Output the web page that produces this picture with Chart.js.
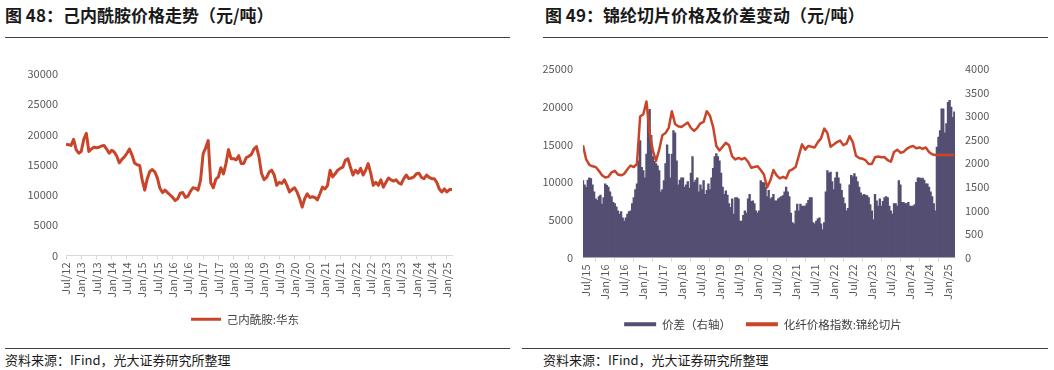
<!DOCTYPE html>
<html><head><meta charset="utf-8">
<script src="https://cdn.jsdelivr.net/npm/chart.js@4/dist/chart.umd.min.js"></script>
<style>
body{margin:0;width:1054px;height:370px;background:#fff;position:relative;overflow:hidden;font-family:"Noto Sans CJK SC",sans-serif}
.title{position:absolute;font-size:17px;line-height:17px;font-weight:bold;color:#1a1a1a;white-space:nowrap}
.rule{position:absolute;height:1px;background:#404040}
.src{position:absolute;font-size:13px;line-height:13px;color:#1a1a1a;white-space:nowrap}
canvas{position:absolute}
</style></head><body>
<div class="title" style="left:5px;top:6px">图 48：己内酰胺价格走势（元/吨）</div>
<div class="rule" style="left:5px;top:37px;width:505px"></div>
<div class="title" style="left:545px;top:6px">图 49：锦纶切片价格及价差变动（元/吨）</div>
<div class="rule" style="left:543px;top:37px;width:505px"></div>
<canvas id="c1" width="515" height="300" style="left:0;top:40px"></canvas>
<canvas id="c2" width="534" height="300" style="left:520px;top:40px"></canvas>
<div class="rule" style="left:5px;top:348px;width:505px"></div>
<div class="rule" style="left:522px;top:348px;width:526px"></div>
<div class="src" style="left:5px;top:353px">资料来源：IFind，光大证券研究所整理</div>
<div class="src" style="left:543px;top:353px">资料来源：IFind，光大证券研究所整理</div>
<script>
// ---------- Chart 48 data: monthly, Jul 2012 .. Mar 2025 ----------
const leftSeriesName = '己内酰胺:华东';
const caprolactamPrice = [
  18400,18300,18200,19200,17500,16900,
  17200,19200,20200,17200,17600,17900,17800,17900,18100,18200,17600,16900,
  17400,17100,16400,15300,15900,16300,16900,17600,16600,15300,15000,14900,
  12500,10800,12700,13900,14200,13800,12800,11100,10400,10800,10400,10000,
  9600,9100,9400,10300,10400,9600,9800,10600,11200,11100,10800,12500,
  16800,17800,19000,12000,11200,12600,13000,14500,13500,15200,17500,16000,
  16000,15800,16500,15200,15200,16200,16400,16700,17600,18000,16300,13550,
  12550,12900,13800,14100,13300,11600,12100,11900,12500,11600,10500,10900,
  11200,10500,9400,8000,9400,10200,9600,9700,9600,9200,10200,11300,
  11000,11600,14100,13000,13500,14100,14400,14600,15750,16000,14600,13300,
  14100,13600,14400,13300,14100,15200,13600,11600,12100,11600,12500,11300,
  12100,12800,12500,12300,12500,12000,11800,12700,13300,12700,12800,13000,
  13500,13600,12900,12700,13300,12900,12700,12700,12100,11000,10500,11000,
  10500,10900,10900
];
const leftTickLabels = ['Jul/12','Jan/13','Jul/13','Jan/14','Jul/14','Jan/15','Jul/15','Jan/16','Jul/16','Jan/17','Jul/17','Jan/18','Jul/18','Jan/19','Jul/19','Jan/20','Jul/20','Jan/21','Jul/21','Jan/22','Jul/22','Jan/23','Jul/23','Jan/24','Jul/24','Jan/25'];
const leftYTicks = [0,5000,10000,15000,20000,25000,30000];

// ---------- Chart 49 data ----------
const lineSeriesName = '化纤价格指数:锦纶切片';
const barSeriesName = '价差（右轴）';
// monthly, Jun 2015 .. Mar 2025 (month offset from Jul 2015 starts at -1)
const nylonChipPrice = [
  14900,13000,12300,12100,12000,11500,10900,
  10600,10700,11300,11500,11000,10900,11100,11700,12200,12000,12400,18700,
  19000,20700,16500,14200,12800,14300,16200,16500,17200,19400,17700,17400,
  17300,17600,17900,17200,16800,17200,17800,18000,19400,18800,17300,14800,
  14200,14700,15200,14900,13400,13000,13200,13000,13200,12700,11900,12000,
  12100,11600,11000,9300,10200,11600,10900,10500,10700,10500,11500,11700,
  12000,13500,15000,14300,14800,14700,14600,15300,15800,17100,16500,14700,
  15000,15300,15500,14900,15100,16100,15300,13500,13200,13100,12900,12400,
  12400,13300,13400,13300,13300,12900,12700,14000,14300,13900,14000,14400,
  14660,14800,14500,14600,14400,14600,14000,13700,13600,13600,13600,13600,
  13600,13600,13600
];
// half-monthly, Jun 2015 .. Mar 2025
const priceSpread = [
  1640,1550,1500,1650,1700,1680,1550,1400,1250,1220,1300,1330,1140,1280,
  1570,1540,1500,1400,1300,1180,1150,1080,1000,930,980,850,780,850,930,980,1000,1150,1280,1450,1570,2060,2490,1920,
  1850,1700,2200,3100,3150,2600,2150,2050,2000,1950,1850,1400,1450,1640,2000,2400,2200,1700,2200,2700,2650,2060,1550,1650,
  1700,1700,1500,1550,1620,1480,1800,2150,1600,1650,1700,1400,1550,1450,1640,1350,1430,1570,1450,1700,1900,2150,2210,2150,
  2060,1800,1500,1350,1420,1330,1150,1070,1250,930,1280,1280,1250,780,780,900,1000,950,1250,1350,1200,1210,1150,1000,
  950,1000,1640,1600,1590,1500,1300,1430,1250,1280,1350,1210,1210,1250,1280,1300,1320,1400,1500,1400,1300,950,750,720,
  1000,1140,1000,1140,1100,1100,1100,1150,1220,1280,1280,750,720,780,830,850,720,600,750,1400,1850,1800,1820,1620,
  1450,1700,1820,1700,1570,1430,1280,1150,1000,1050,1550,1750,1720,1790,1720,1620,1500,1380,1320,1350,1330,1320,1280,1130,
  1000,810,1350,1210,1100,1250,1100,1200,1280,1300,1280,1100,1000,930,1150,1150,1100,1640,1550,1180,1180,1150,1150,1180,
  1100,1100,1100,1130,1600,1700,1700,1680,1690,1650,1570,1570,1500,1400,1300,1150,1000,2350,2560,2700,3160,3160,2650,2850,
  3300,3340,3200,2980,3100
];
const rightTickLabels = ['Jul/15','Jan/16','Jul/16','Jan/17','Jul/17','Jan/18','Jul/18','Jan/19','Jul/19','Jan/20','Jul/20','Jan/21','Jul/21','Jan/22','Jul/22','Jan/23','Jul/23','Jan/24','Jul/24','Jan/25'];
const rightYTicks = [0,5000,10000,15000,20000,25000];
const rightY1Ticks = [0,500,1000,1500,2000,2500,3000,3500,4000];

// ---------- styling ----------
const RED = '#C9452A';
const PURPLE = '#544F72';
const TICK_COLOR = '#595959';
const AXIS_COLOR = '#d9d9d9';
const FONT = '"Noto Sans CJK SC", sans-serif';
const tickFont = {family: FONT, size: 11};
const legendFont = {family: FONT, size: 11.5};

function fixedTicks(values){ return s => { s.ticks = values.map(v => ({value: v})); }; }
function flatLegend(chart){
  return Chart.defaults.plugins.legend.labels.generateLabels(chart).map(l => Object.assign(l, {lineWidth: 0}));
}

// ---------- Chart 48 ----------
new Chart(document.getElementById('c1'), {
  type: 'line',
  data: { datasets: [{
    label: leftSeriesName,
    data: caprolactamPrice.map((v, i) => ({x: i, y: v})),
    borderColor: RED, backgroundColor: RED, borderWidth: 3,
    pointRadius: 0, tension: 0, borderJoinStyle: 'round'
  }]},
  options: {
    responsive: false, animation: false, events: [],
    layout: {padding: {top: 34, right: 25, left: 0, bottom: 5}},
    plugins: {
      tooltip: {enabled: false},
      legend: {position: 'bottom', labels: {boxWidth: 30, boxHeight: 3, padding: 10, color: '#404040', font: legendFont, generateLabels: flatLegend}}
    },
    scales: {
      x: {
        type: 'linear', min: 0, max: caprolactamPrice.length - 1, offset: false,
        afterBuildTicks: fixedTicks(leftTickLabels.map((_, i) => i * 6)),
        ticks: {callback: (v, i) => leftTickLabels[i], minRotation: 90, maxRotation: 90, autoSkip: false, padding: 3, color: TICK_COLOR, font: tickFont},
        grid: {drawOnChartArea: false, color: AXIS_COLOR, tickLength: 4},
        border: {color: AXIS_COLOR, width: 1},
        afterFit: s => { s.height = 48; }
      },
      y: {
        min: 0, max: 30000,
        afterBuildTicks: fixedTicks(leftYTicks),
        ticks: {padding: 8, color: TICK_COLOR, font: tickFont, callback: v => String(v)},
        grid: {display: false, drawTicks: false}, border: {display: false},
        afterFit: s => { s.width = 66; }
      },
      spacer: {
        position: 'right', min: 0, max: 1,
        ticks: {display: false}, grid: {display: false, drawTicks: false}, border: {display: false},
        afterFit: s => { s.width = 38; }
      }
    }
  }
});

// ---------- Chart 49 ----------
new Chart(document.getElementById('c2'), {
  type: 'bar',
  data: { datasets: [
    {
      type: 'bar', label: barSeriesName, yAxisID: 'y1', order: 2,
      data: priceSpread.map((v, i) => ({x: -1 + i * 0.5, y: v})),
      backgroundColor: PURPLE, borderWidth: 0, barPercentage: 1.5, categoryPercentage: 1
    },
    {
      type: 'line', label: lineSeriesName, yAxisID: 'y', order: 1,
      data: nylonChipPrice.map((v, i) => ({x: -1 + i, y: v})),
      borderColor: RED, backgroundColor: RED, borderWidth: 2.5,
      pointRadius: 0, tension: 0, borderJoinStyle: 'round'
    }
  ]},
  options: {
    responsive: false, animation: false, events: [],
    layout: {padding: {top: 29, right: 48, left: 0, bottom: 0}},
    plugins: {
      tooltip: {enabled: false},
      legend: {position: 'bottom', labels: {boxWidth: 32, boxHeight: 4, padding: 15, color: '#404040', font: legendFont,
        generateLabels: flatLegend, sort: (a, b) => a.datasetIndex - b.datasetIndex}}
    },
    scales: {
      x: {
        type: 'linear', min: -1, max: 116.2, offset: false,
        afterBuildTicks: fixedTicks(rightTickLabels.map((_, i) => i * 6)),
        ticks: {callback: (v, i) => rightTickLabels[i], minRotation: 90, maxRotation: 90, autoSkip: false, padding: 3, color: TICK_COLOR, font: tickFont},
        grid: {drawOnChartArea: false, color: AXIS_COLOR, tickLength: 4},
        border: {color: AXIS_COLOR, width: 1},
        afterFit: s => { s.height = 46; }
      },
      y: {
        position: 'left', min: 0, max: 25000,
        afterBuildTicks: fixedTicks(rightYTicks),
        ticks: {padding: 10, color: TICK_COLOR, font: tickFont, callback: v => String(v)},
        grid: {display: false, drawTicks: false}, border: {display: false},
        afterFit: s => { s.width = 63; }
      },
      y1: {
        position: 'right', min: 0, max: 4000,
        afterBuildTicks: fixedTicks(rightY1Ticks),
        ticks: {padding: 10, color: TICK_COLOR, font: tickFont, callback: v => String(v)},
        grid: {display: false, drawTicks: false}, border: {display: false},
        afterFit: s => { s.width = 51; }
      }
    }
  }
});
</script>
</body></html>
